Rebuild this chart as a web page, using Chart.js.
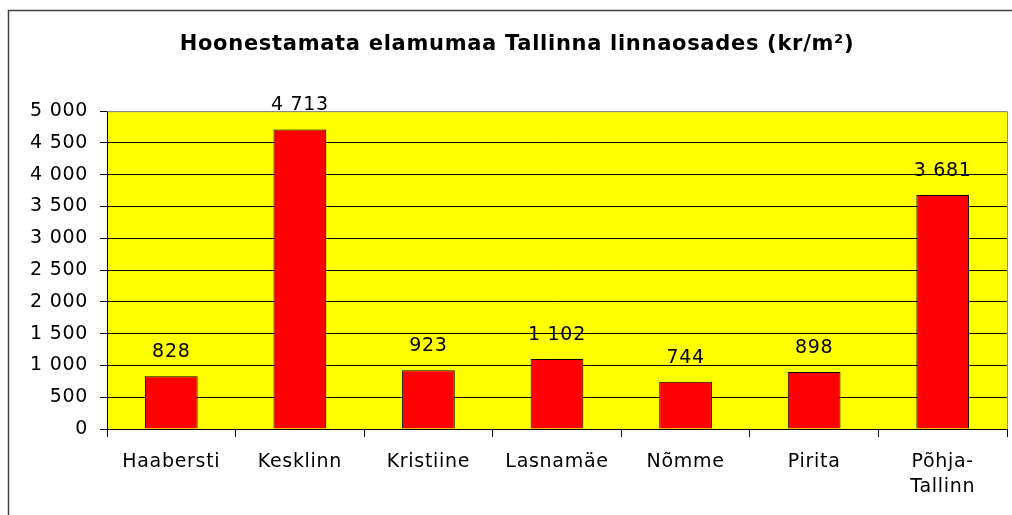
<!DOCTYPE html>
<html>
<head>
<meta charset="utf-8">
<script src="https://cdn.jsdelivr.net/npm/chart.js@4"></script>
<style>
html,body{margin:0;padding:0;background:#fff;}
#wrap{width:1012px;height:515px;position:relative;}
</style>
</head>
<body>
<div id="wrap"><canvas id="c" width="1012" height="515"></canvas></div>
<script>
const titleText = 'Hoonestamata elamumaa Tallinna linnaosades (kr/m²)';
const categories = ['Haabersti', 'Kesklinn', 'Kristiine', 'Lasnamäe', 'Nõmme', 'Pirita', ['Põhja-', 'Tallinn']];
const values = [828, 4713, 923, 1102, 744, 898, 3681];
const yMin = 0, yMax = 5000, yStep = 500;

const FONT = '"DejaVu Sans", Verdana, sans-serif';
const LS = '0.7px';

function fmt(v) { return String(v).replace(/\B(?=(\d{3})+(?!\d))/g, ' '); }

const spacing = {
  id: 'spacing',
  beforeUpdate(c) { c.ctx.letterSpacing = LS; },
  beforeLayout(c) { c.ctx.letterSpacing = LS; },
  beforeDraw(c) {
    const ctx = c.ctx, a = c.chartArea;
    ctx.letterSpacing = LS;
    ctx.save();
    ctx.fillStyle = '#FFFF00';
    ctx.fillRect(a.left, a.top, a.right - a.left, a.bottom - a.top);
    ctx.restore();
  },
  afterDatasetsDraw(c) {
    const ctx = c.ctx;
    const meta = c.getDatasetMeta(0);
    ctx.save();
    ctx.font = '19px ' + FONT;
    ctx.fillStyle = '#000';
    ctx.textAlign = 'center';
    ctx.textBaseline = 'middle';
    meta.data.forEach((bar, i) => {
      ctx.fillText(fmt(values[i]), bar.x, bar.y - 24);
    });
    ctx.restore();
  },
  afterDraw(c) {
    const ctx = c.ctx, a = c.chartArea;
    ctx.save();
    ctx.strokeStyle = '#8a8a8a';
    ctx.lineWidth = 1;
    ctx.beginPath();
    ctx.moveTo(a.left, a.top + 0.5);
    ctx.lineTo(a.right + 0.5, a.top + 0.5);
    ctx.lineTo(a.right + 0.5, a.bottom);
    ctx.stroke();
    ctx.strokeStyle = '#404040';
    ctx.lineWidth = 1.5;
    ctx.strokeRect(8.5, 10.5, 1020, 520);
    ctx.restore();
  }
};

new Chart(document.getElementById('c'), {
  type: 'bar',
  data: {
    labels: categories,
    datasets: [{
      data: values,
      backgroundColor: '#FF0000',
      borderColor: '#000000',
      borderWidth: 1,
      barPercentage: 0.41,
      categoryPercentage: 1
    }]
  },
  options: {
    responsive: false,
    animation: false,
    devicePixelRatio: 1,
    layout: { padding: { left: 27, right: 5, top: 10, bottom: 0 } },
    plugins: {
      legend: { display: false },
      tooltip: { enabled: false },
      title: {
        display: true,
        text: titleText,
        color: '#000',
        font: { family: FONT, size: 21, weight: 'bold', lineHeight: 1.2 },
        padding: { top: 22, bottom: 54 }
      }
    },
    scales: {
      x: {
        grid: { offset: true, drawOnChartArea: false, drawTicks: true, tickLength: 8, tickColor: '#000', color: '#000' },
        border: { display: true, color: '#000', width: 1 },
        ticks: {
          color: '#000',
          font: { family: FONT, size: 19, lineHeight: 1.35 },
          padding: 12,
          maxRotation: 0,
          autoSkip: false
        },
        afterFit(s) { s.height = 86; }
      },
      y: {
        min: yMin, max: yMax,
        grid: {
          color: (ctx) => (ctx.tick && ctx.tick.value === yMax ? '#8a8a8a' : '#000'),
          lineWidth: 1,
          drawTicks: true, tickLength: 7, tickColor: '#000'
        },
        border: { display: true, color: '#000', width: 1 },
        ticks: {
          stepSize: yStep,
          color: '#000',
          padding: 12,
          font: { family: FONT, size: 19 },
          callback: (v) => fmt(v)
        },
        afterFit(s) { s.width = 80; }
      }
    }
  },
  plugins: [spacing]
});
</script>
</body>
</html>
